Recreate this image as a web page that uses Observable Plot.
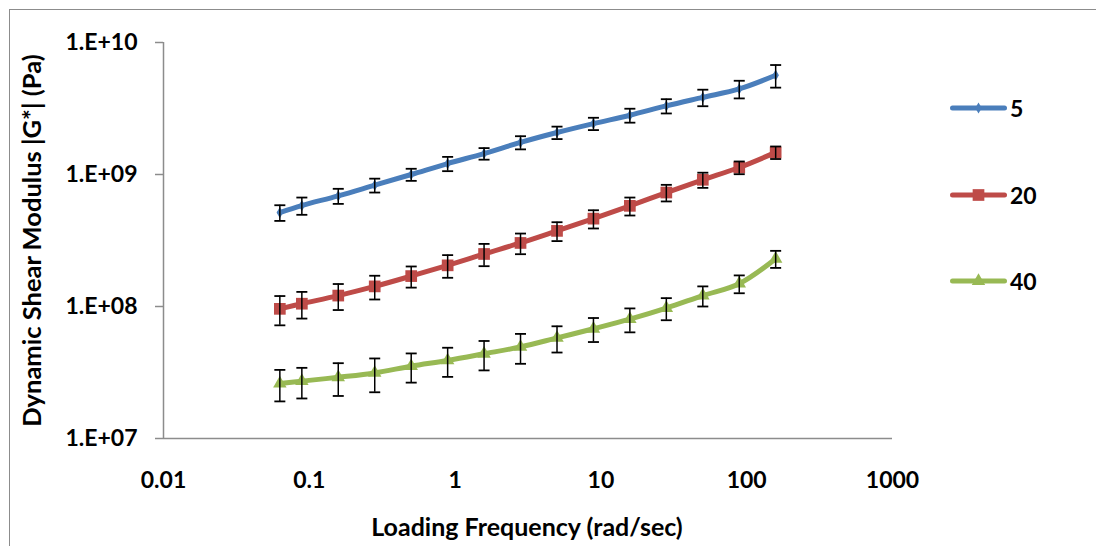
<!DOCTYPE html>
<html>
<head>
<meta charset="utf-8">
<script src="https://cdn.jsdelivr.net/npm/d3@7"></script>
<script src="https://cdn.jsdelivr.net/npm/@observablehq/plot@0.6"></script>
<style>
  html, body { margin: 0; padding: 0; background: #fff; }
  #wrap { position: relative; width: 1096px; height: 546px; overflow: hidden; font-family: Lato, "Open Sans", sans-serif; }
  #frame { position: absolute; left: 9px; top: 9px; width: 1200px; height: 600px; border-left: 1.5px solid #8c8c8c; border-top: 1.5px solid #8c8c8c; }
  #chart { position: absolute; left: 0; top: 0; }
  #legend { position: absolute; left: 950px; top: 0; font-weight: bold; font-size: 23px; color: #000; }
  .item { position: absolute; left: 0; height: 30px; display: flex; align-items: center; white-space: nowrap; }
  .item svg { display: block; }
  .item span { margin-left: 3px; }
</style>
</head>
<body>
<div id="wrap">
  <div id="frame"></div>
  <div id="chart"></div>
  <div id="legend"></div>
</div>
<script>
// Loading frequency (rad/sec)
const freq = [0.0628, 0.0889, 0.158, 0.281, 0.5, 0.889, 1.58, 2.81, 5.0, 8.89, 15.8, 28.1, 50, 88.9, 158];
// Series names (temperature)
const seriesNames = ["5", "20", "40"];
const seriesColors = ["#4A7EBB", "#BE4B48", "#98B954"];
// |G*| values (Pa)
const g5  = [5.15e8, 5.82e8, 6.89e8, 8.3e8, 1.0e9, 1.21e9, 1.44e9, 1.75e9, 2.08e9, 2.43e9, 2.81e9, 3.31e9, 3.84e9, 4.45e9, 5.65e9];
const g20 = [9.6e7, 1.05e8, 1.21e8, 1.42e8, 1.70e8, 2.05e8, 2.50e8, 3.03e8, 3.74e8, 4.63e8, 5.79e8, 7.30e8, 9.12e8, 1.13e9, 1.47e9];
const g40 = [2.61e7, 2.72e7, 2.91e7, 3.14e7, 3.53e7, 3.90e7, 4.38e7, 4.94e7, 5.78e7, 6.78e7, 8.02e7, 9.72e7, 1.21e8, 1.49e8, 2.3e8];
// error bar half-widths (Pa)
const e5  = [7e7, 8.7e7, 9e7, 1e8, 1.05e8, 1.5e8, 1.45e8, 2.0e8, 2.25e8, 2.6e8, 3.4e8, 4.1e8, 5.5e8, 6.8e8, 1.1e9];
const e20 = [2.4e7, 2.4e7, 2.7e7, 2.9e7, 3.1e7, 4.0e7, 4.8e7, 5.4e7, 6.1e7, 7.3e7, 9e7, 1.05e8, 1.2e8, 1.25e8, 1.6e8];
const e40 = [7e6, 7.1e6, 8.1e6, 9e6, 8.8e6, 9.7e6, 1.1e7, 1.26e7, 1.3e7, 1.4e7, 1.65e7, 1.85e7, 2.1e7, 2.3e7, 3.4e7];
// tick values
const xTicks = [0.01, 0.1, 1, 10, 100, 1000];
const yTicks = [1e7, 1e8, 1e9, 1e10];
const xTitle = "Loading Frequency (rad/sec)";
const yTitle = "Dynamic Shear Modulus |G*| (Pa)";

const values = [g5, g20, g40];
const errors = [e5, e20, e40];
const rows = [];
seriesNames.forEach((s, i) => {
  freq.forEach((f, j) => {
    rows.push({series: s, f, g: values[i][j], lo: values[i][j] - errors[i][j], hi: values[i][j] + errors[i][j]});
  });
});
const bySeries = s => rows.filter(d => d.series === s);

const cap = { draw(ctx) { ctx.moveTo(-5.5, 0); ctx.lineTo(5.5, 0); } };
const yFmt = d => "1.E+" + String(Math.round(Math.log10(d))).padStart(2, "0");
const font = "Lato, 'Open Sans', sans-serif";

const chart = Plot.plot({
  width: 1096,
  height: 546,
  marginLeft: 163,
  marginRight: 204,
  marginTop: 42,
  marginBottom: 108,
  style: { fontFamily: font, fontWeight: "bold", fontSize: "23px", color: "#000", background: "transparent" },
  x: { type: "log", domain: [0.01, 1000] },
  y: { type: "log", domain: [1e7, 1e10] },
  color: { domain: seriesNames, range: seriesColors },
  marks: [
    Plot.axisX({ ticks: xTicks, tickFormat: d => String(d), tickSize: 0, tickPadding: 33, label: null, fontSize: 23, fontWeight: "bold" }),
    Plot.axisY({ ticks: yTicks, tickFormat: yFmt, tickSize: 8, tickPadding: 18, label: null, stroke: "#8c8c8c", strokeWidth: 1.5, fontSize: 23 }),
    Plot.ruleX([0.01], { stroke: "#8c8c8c", strokeWidth: 1.5 }),
    Plot.ruleY([1e7], { stroke: "#8c8c8c", strokeWidth: 1.5 }),
    Plot.line(rows, { x: "f", y: "g", stroke: "series", z: "series", strokeWidth: 5, curve: "catmull-rom" }),
    Plot.dot(bySeries("5"), { x: "f", y: "g", symbol: "diamond", fill: seriesColors[0], r: 3.4 }),
    Plot.dot(bySeries("20"), { x: "f", y: "g", symbol: "square", fill: seriesColors[1], r: 6.6 }),
    Plot.dot(bySeries("40"), { x: "f", y: "g", symbol: "triangle", fill: seriesColors[2], r: 5 }),
    Plot.ruleX(rows, { x: "f", y1: "lo", y2: "hi", stroke: "#000", strokeWidth: 1.5 }),
    Plot.dot(rows, { x: "f", y: "lo", symbol: cap, stroke: "#000", strokeWidth: 1.8, fill: null }),
    Plot.dot(rows, { x: "f", y: "hi", symbol: cap, stroke: "#000", strokeWidth: 1.8, fill: null }),
    Plot.text([yTitle], { frameAnchor: "left", textAnchor: "middle", lineAnchor: "middle", rotate: -90, dx: -131, fontSize: 25.5, fontWeight: "bold", fill: "#000" }),
    Plot.text([xTitle], { frameAnchor: "bottom", textAnchor: "middle", lineAnchor: "middle", dy: 89, dx: -1, fontSize: 25, fontWeight: "bold", fill: "#000" })
  ]
});
document.getElementById("chart").appendChild(chart);

// legend
const legend = document.getElementById("legend");
const legendY = [108, 195, 281];
const symbols = ["diamond", "square", "triangle"];
const symR = [3.4, 6.6, 5];
seriesNames.forEach((s, i) => {
  const item = document.createElement("div");
  item.className = "item";
  item.style.top = (legendY[i] - 15) + "px";
  const sym = d3.symbol(d3["symbol" + symbols[i][0].toUpperCase() + symbols[i].slice(1)], Math.PI * symR[i] * symR[i])();
  item.innerHTML = `<svg width="57" height="30"><line x1="2.5" y1="15" x2="54.5" y2="15" stroke="${seriesColors[i]}" stroke-width="5" stroke-linecap="round"/><path d="${sym}" transform="translate(28.5,15)" fill="${seriesColors[i]}"/></svg><span>${s}</span>`;
  legend.appendChild(item);
});
</script>
</body>
</html>
